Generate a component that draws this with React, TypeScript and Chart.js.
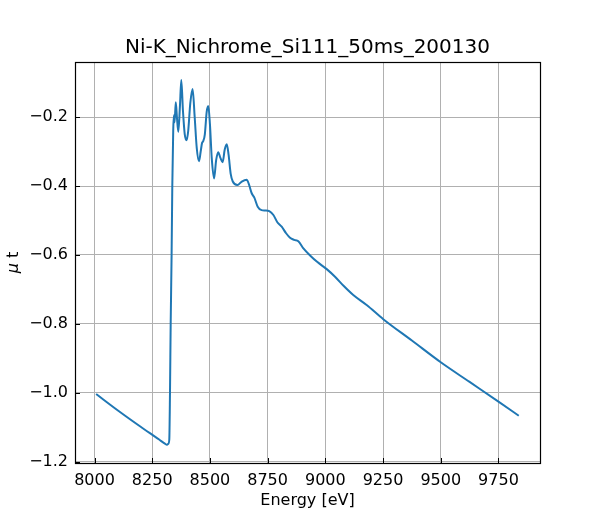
import React, { useRef, useEffect } from 'react';
import Chart from 'chart.js/auto';

const energy = [
    8007, 8100, 8200, 8280, 8305, 8314, 8320, 8324, 8327, 8330,
    8334, 8337, 8341, 8344, 8347, 8352, 8357, 8363, 8370, 8376,
    8383, 8391, 8399, 8406, 8415, 8425, 8434, 8443, 8453, 8460,
    8466, 8471, 8478, 8486, 8493, 8500, 8508, 8518, 8527, 8536,
    8545, 8555, 8564, 8573, 8581, 8590, 8599, 8619, 8638, 8659,
    8669, 8681, 8692, 8707, 8724, 8740, 8757, 8775, 8792, 8811,
    8830, 8847, 8865, 8883, 8905, 8935, 8963, 9006, 9042, 9080,
    9121, 9179, 9251, 9375, 9500, 9625, 9750, 9838,
];
const mu = [
    -1.003, -1.05, -1.098, -1.135, -1.147, -1.15, -1.147, -1.135, -1.0, -0.8,
    -0.6, -0.4, -0.24, -0.195, -0.215, -0.157, -0.2, -0.243, -0.17, -0.093,
    -0.18, -0.25, -0.267, -0.24, -0.16, -0.119, -0.2, -0.29, -0.328, -0.3,
    -0.275, -0.27, -0.25, -0.185, -0.168, -0.22, -0.32, -0.378, -0.325, -0.302,
    -0.318, -0.331, -0.295, -0.279, -0.31, -0.365, -0.387, -0.397, -0.387, -0.382,
    -0.395, -0.421, -0.433, -0.46, -0.47, -0.471, -0.473, -0.484, -0.505, -0.518,
    -0.537, -0.55, -0.556, -0.56, -0.581, -0.602, -0.619, -0.641, -0.663, -0.69,
    -0.716, -0.745, -0.786, -0.848, -0.911, -0.968, -1.025, -1.066,
];
const xTicks = [8000, 8250, 8500, 8750, 9000, 9250, 9500, 9750];
const yTicks = [-1.2, -1.0, -0.8, -0.6, -0.4, -0.2];

const FONT = "'DejaVu Sans', sans-serif";

// box round the plot, inward ticks, and the y label with an italic mu
const framePlugin = {
    id: 'frame',
    afterDraw(chart: any) {
        const { ctx, chartArea: a, scales } = chart;
        ctx.save();
        ctx.strokeStyle = '#000';
        ctx.lineWidth = 1;
        ctx.beginPath();
        for (const t of xTicks) {
            const px = Math.round(scales.x.getPixelForValue(t)) + 0.5;
            ctx.moveTo(px, a.bottom);
            ctx.lineTo(px, a.bottom - 5);
        }
        for (const t of yTicks) {
            const py = Math.round(scales.y.getPixelForValue(t)) + 0.5;
            ctx.moveTo(a.left, py);
            ctx.lineTo(a.left + 5, py);
        }
        ctx.stroke();
        ctx.lineWidth = 1.2;
        ctx.strokeRect(Math.round(a.left) + 0.5, Math.round(a.top) + 0.5,
            Math.round(a.right - a.left), Math.round(a.bottom - a.top));

        ctx.fillStyle = '#000';
        ctx.textBaseline = 'middle';
        ctx.textAlign = 'left';
        const muFont = `italic 16px ${FONT}`;
        const tFont = `16px ${FONT}`;
        ctx.font = muFont;
        const w1 = ctx.measureText('μ').width;
        ctx.font = tFont;
        const w2 = ctx.measureText(' t').width;
        ctx.translate(14, (a.top + a.bottom) / 2);
        ctx.rotate(-Math.PI / 2);
        const x0 = -(w1 + w2) / 2;
        ctx.font = muFont;
        ctx.fillText('μ', x0, 0);
        ctx.font = tFont;
        ctx.fillText(' t', x0 + w1, 0);
        ctx.restore();
    },
};

const App: React.FC = () => {
    const canvasRef = useRef<HTMLCanvasElement>(null);

    useEffect(() => {
        document.body.style.margin = '0';
        if (!canvasRef.current) return;
        const points = energy.map((e, i) => ({ x: e, y: mu[i] }));
        const chart = new Chart(canvasRef.current, {
            type: 'line',
            data: {
                datasets: [{
                    data: points,
                    borderColor: '#1f77b4',
                    borderWidth: 2,
                    pointRadius: 0,
                    fill: false,
                    cubicInterpolationMode: 'monotone',
                }],
            },
            options: {
                responsive: false,
                animation: false,
                layout: { padding: { left: 0, right: 60, top: 0, bottom: 0 } },
                plugins: {
                    legend: { display: false },
                    tooltip: { enabled: false },
                    title: {
                        display: true,
                        text: 'Ni-K_Nichrome_Si111_50ms_200130',
                        color: '#000',
                        font: { family: FONT, size: 20, weight: 'normal' },
                        padding: { top: 36, bottom: 2 },
                        fullSize: false,
                    },
                },
                scales: {
                    x: {
                        type: 'linear',
                        min: 7915.5,
                        max: 9930,
                        afterBuildTicks: (s: any) => { s.ticks = xTicks.map(v => ({ value: v })); },
                        afterFit: (s: any) => { s.height = 57; },
                        grid: { color: '#b0b0b0', lineWidth: 1, drawTicks: false },
                        border: { display: false },
                        ticks: {
                            color: '#000',
                            font: { family: FONT, size: 16 },
                            padding: 8,
                            maxRotation: 0,
                            autoSkip: false,
                            callback: (v: any) => String(v),
                        },
                        title: {
                            display: true,
                            text: 'Energy [eV]',
                            color: '#000',
                            font: { family: FONT, size: 16 },
                            padding: { top: 2, bottom: 10 },
                        },
                    },
                    y: {
                        type: 'linear',
                        min: -1.203,
                        max: -0.0405,
                        afterBuildTicks: (s: any) => { s.ticks = yTicks.map(v => ({ value: v })); },
                        afterFit: (s: any) => { s.width = 75; },
                        grid: { color: '#b0b0b0', lineWidth: 1, drawTicks: false },
                        border: { display: false },
                        ticks: {
                            color: '#000',
                            font: { family: FONT, size: 16 },
                            padding: 7,
                            autoSkip: false,
                            callback: (v: any) => Number(v).toFixed(1).replace('-', '\u2212'),
                        },
                    },
                },
            },
            plugins: [framePlugin],
        });
        return () => chart.destroy();
    }, []);

    return (
        <div style={{ width: 600, height: 520, background: '#fff' }}>
            <canvas ref={canvasRef} width={600} height={520}></canvas>
        </div>
    );
};

export default App;
